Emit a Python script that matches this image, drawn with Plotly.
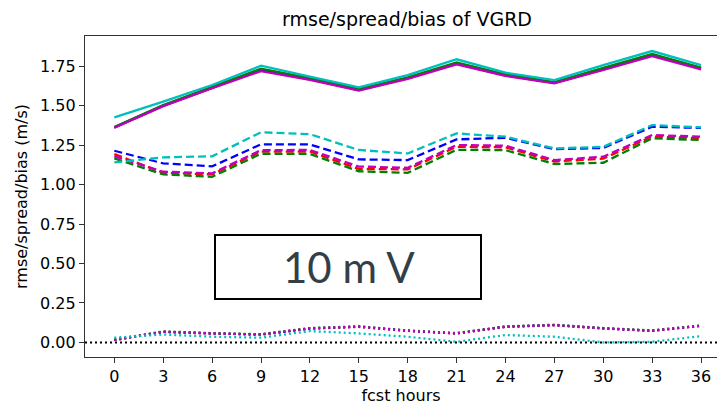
import plotly.graph_objects as go

hours = [0, 3, 6, 9, 12, 15, 18, 21, 24, 27, 30, 33, 36]
tick_labels = [str(h) for h in hours]

series_names = ["r", "b", "g", "m", "c"]
colors = {"r": "#ff0000", "b": "#0000ff", "g": "#008000", "m": "#bf00bf", "c": "#00bfbf"}

rmse = {
    "r": [1.362, 1.500, 1.613, 1.725, 1.668, 1.600, 1.673, 1.767, 1.692, 1.645, 1.730, 1.820, 1.735],
    "b": [1.363, 1.501, 1.615, 1.727, 1.670, 1.601, 1.675, 1.769, 1.694, 1.646, 1.732, 1.822, 1.737],
    "g": [1.366, 1.505, 1.620, 1.735, 1.675, 1.605, 1.680, 1.775, 1.700, 1.650, 1.740, 1.828, 1.742],
    "m": [1.361, 1.498, 1.611, 1.720, 1.665, 1.596, 1.670, 1.763, 1.689, 1.642, 1.727, 1.815, 1.731],
    "c": [1.427, 1.526, 1.632, 1.754, 1.685, 1.617, 1.695, 1.795, 1.710, 1.663, 1.758, 1.847, 1.758],
}
spread = {
    "r": [1.194, 1.075, 1.065, 1.210, 1.210, 1.100, 1.097, 1.240, 1.237, 1.147, 1.165, 1.305, 1.295],
    "b": [1.215, 1.135, 1.116, 1.256, 1.255, 1.160, 1.156, 1.287, 1.297, 1.225, 1.233, 1.367, 1.360],
    "g": [1.167, 1.065, 1.050, 1.196, 1.195, 1.085, 1.075, 1.221, 1.219, 1.131, 1.139, 1.294, 1.283],
    "m": [1.180, 1.082, 1.072, 1.219, 1.220, 1.115, 1.107, 1.251, 1.247, 1.156, 1.177, 1.315, 1.304],
    "c": [1.141, 1.173, 1.180, 1.332, 1.320, 1.220, 1.198, 1.325, 1.304, 1.230, 1.240, 1.378, 1.363],
}
bias = {
    "r": [0.014, 0.066, 0.056, 0.049, 0.087, 0.098, 0.073, 0.056, 0.098, 0.108, 0.088, 0.073, 0.104],
    "b": [0.016, 0.067, 0.057, 0.050, 0.088, 0.100, 0.074, 0.057, 0.100, 0.110, 0.089, 0.074, 0.106],
    "g": [0.018, 0.070, 0.059, 0.052, 0.091, 0.102, 0.076, 0.059, 0.102, 0.112, 0.091, 0.076, 0.108],
    "m": [0.015, 0.068, 0.057, 0.050, 0.089, 0.100, 0.074, 0.057, 0.100, 0.110, 0.089, 0.074, 0.106],
    "c": [0.030, 0.050, 0.036, 0.030, 0.072, 0.057, 0.036, 0.004, 0.047, 0.036, 0.000, 0.004, 0.040],
}

fig = go.Figure()
for s in series_names:
    fig.add_trace(go.Scatter(x=hours, y=rmse[s], mode="lines",
                             line=dict(color=colors[s], width=2.3), showlegend=False))
for s in series_names:
    fig.add_trace(go.Scatter(x=hours, y=spread[s], mode="lines",
                             line=dict(color=colors[s], width=2.3, dash="8px,4px"), showlegend=False))
for s in series_names:
    fig.add_trace(go.Scatter(x=hours, y=bias[s], mode="lines",
                             line=dict(color=colors[s], width=2.3, dash="2px,3px"), showlegend=False))

# zero reference line
fig.add_shape(type="line", xref="paper", yref="y", x0=0, x1=1, y0=0, y1=0,
              line=dict(color="black", width=2, dash="2px,3px"))

# annotation box
fig.add_shape(type="rect", xref="paper", yref="paper",
              x0=(215 - 85) / 632, x1=(481 - 85) / 632,
              y0=(357 - 299) / 321, y1=(357 - 235) / 321,
              line=dict(color="black", width=2), fillcolor="white", layer="above")
fig.add_annotation(xref="paper", yref="paper", x=(349 - 85) / 632, y=(357 - 267) / 321,
                   text="10 m V", showarrow=False,
                   font=dict(family="Lato", size=42, color="#333f48"),
                   xanchor="center", yanchor="middle")

font = dict(family="DejaVu Sans", size=16, color="black")
fig.update_layout(
    width=717, height=405,
    margin=dict(l=85, r=0, t=36, b=48),
    paper_bgcolor="white", plot_bgcolor="white",
    font=font,
    title=dict(text="rmse/spread/bias of VGRD", x=407 / 717, xanchor="center",
               y=1 - 19 / 405, yanchor="middle", font=dict(family="DejaVu Sans", size=19, color="black")),
    xaxis=dict(range=[-1.8, 36.98], tickmode="array", tickvals=hours, ticktext=tick_labels,
               showgrid=False, zeroline=False, showline=True, linecolor="#333333", linewidth=1.2,
               mirror=True, ticks="outside", ticklen=5, tickcolor="#333333",
               title=dict(text="fcst hours", standoff=3, font=font), tickfont=font),
    yaxis=dict(range=[-0.0925, 1.9425], tickmode="array",
               tickvals=[0, 0.25, 0.5, 0.75, 1.0, 1.25, 1.5, 1.75],
               ticktext=["0.00", "0.25", "0.50", "0.75", "1.00", "1.25", "1.50", "1.75"],
               showgrid=False, zeroline=False, showline=True, linecolor="#333333", linewidth=1.2,
               ticks="outside", ticklen=5, tickcolor="#333333",
               title=dict(text="rmse/spread/bias (m/s)", standoff=8, font=font), tickfont=font),
)

fig.write_html("out.html")
